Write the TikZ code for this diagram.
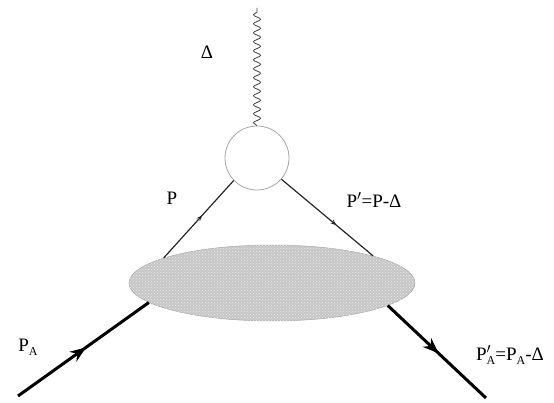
\documentclass[tikz,border=0pt]{standalone}
\usepackage{fontspec}
\setmainfont{Liberation Serif}
\usetikzlibrary{arrows.meta,decorations.pathmorphing,decorations.markings,patterns,shapes.geometric}
\newcommand\subA{\raisebox{-.45ex}{\fontsize{12}{13}\selectfont A}}
\tikzset{
  lbl/.style={font=\fontsize{19}{22}\selectfont, inner sep=0pt},
  thin/.style={line width=1.2pt, black!85},
  thick/.style={line width=3pt, black},
  midarrow/.style={postaction={decorate}, decoration={markings,
      mark=at position #1 with {\arrow{Stealth[length=16pt,width=12pt]}}}},
  smallarrow/.style={postaction={decorate}, decoration={markings,
      mark=at position #1 with {\arrow{Stealth[length=6pt,width=4.5pt]}}}},
  photon/.style={decorate, decoration={snake, amplitude=3.6pt, segment length=9pt}, line width=0.8pt, black!75},
}
\begin{document}
\begin{tikzpicture}[x=1pt,y=-1pt]
\useasboundingbox (0,0) rectangle (554,403);
% blob
\node[ellipse, minimum width=286pt, minimum height=76pt, inner sep=0pt,
      draw=gray!70, line width=0.5pt, fill=gray!45,
      postaction={pattern=crosshatch dots, pattern color=white!85!gray}] (b) at (272,283) {};
% vertex circle
\node[circle, minimum size=64pt, inner sep=0pt, draw=gray!70, line width=0.8pt, fill=white] (c) at (257,158) {};
\coordinate (top) at (257,8);
\draw[photon] (c.north) -- (top);
% quark lines
\draw[thin, smallarrow=0.55] (b.167) -- (c.224);
\draw[thin, smallarrow=0.6] (c.-41) -- (b.15);
% hadron lines
\coordinate (in) at (18,396);
\coordinate (out) at (486,398);
\draw[thick, midarrow=0.52] (in) -- (b.189);
\draw[thick, midarrow=0.52] (b.-11) -- (out);
% labels
\node[lbl] (lD) at (207,52) {Δ};
\node[lbl] (lP) at (172,198) {P};
\node[lbl] (lPp) at (374,200) {P$'$=P-Δ};
\node[lbl] (lPA) at (28,347) {P\subA};
\node[lbl] (lPAp) at (510,355) {P\rlap{$'$}\subA=P\subA-Δ};
\end{tikzpicture}
\end{document}
